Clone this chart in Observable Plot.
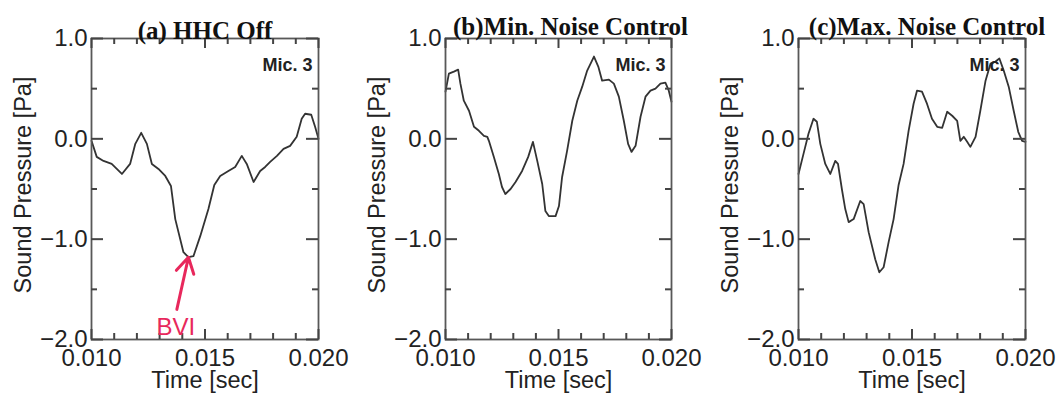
<!DOCTYPE html>
<html><head><meta charset="utf-8">
<script src="https://cdn.jsdelivr.net/npm/d3@7"></script>
<script src="https://cdn.jsdelivr.net/npm/@observablehq/plot@0.6"></script>
<style>
html,body{margin:0;padding:0;background:#fff;}
#wrap{position:relative;width:1063px;height:403px;overflow:hidden;background:#fff;}
#wrap svg{position:absolute;top:0;}
</style></head><body><div id="wrap"></div>
<script>
// ---- data ----
const titles = ["(a) HHC Off", "(b)Min. Noise Control", "(c)Max. Noise Control"];

const timeA = [0.01000,0.01023,0.01053,0.01089,0.01134,0.01170,0.01193,0.01219,0.01244,0.01266,0.01295,0.01325,0.01350,0.01369,0.01405,0.01427,0.01449,0.01479,0.01515,0.01541,0.01567,0.01603,0.01633,0.01662,0.01684,0.01714,0.01743,0.01765,0.01787,0.01817,0.01846,0.01875,0.01904,0.01926,0.01941,0.01968,0.01985,0.02000];
const pressureA = [-0.02,-0.18,-0.22,-0.25,-0.35,-0.25,-0.05,0.06,-0.05,-0.25,-0.30,-0.37,-0.47,-0.80,-1.13,-1.18,-1.17,-0.97,-0.70,-0.46,-0.37,-0.32,-0.28,-0.17,-0.25,-0.43,-0.32,-0.28,-0.23,-0.17,-0.10,-0.07,0.02,0.20,0.25,0.24,0.12,0.00];

const timeB = [0.01000,0.01015,0.01037,0.01056,0.01066,0.01081,0.01104,0.01126,0.01148,0.01170,0.01185,0.01192,0.01214,0.01236,0.01250,0.01265,0.01288,0.01310,0.01339,0.01366,0.01387,0.01406,0.01428,0.01442,0.01457,0.01487,0.01502,0.01516,0.01538,0.01561,0.01583,0.01605,0.01627,0.01657,0.01676,0.01693,0.01723,0.01745,0.01767,0.01789,0.01808,0.01823,0.01841,0.01863,0.01885,0.01907,0.01929,0.01951,0.01973,0.01988,0.02000];
const pressureB = [0.47,0.65,0.67,0.69,0.55,0.38,0.28,0.12,0.08,0.03,0.02,-0.02,-0.18,-0.35,-0.48,-0.55,-0.50,-0.43,-0.32,-0.18,-0.03,-0.22,-0.45,-0.72,-0.77,-0.77,-0.67,-0.38,-0.12,0.18,0.38,0.52,0.68,0.82,0.72,0.58,0.59,0.55,0.42,0.18,-0.05,-0.13,-0.07,0.22,0.42,0.48,0.50,0.55,0.56,0.48,0.37];

const timeC = [0.01000,0.01022,0.01044,0.01066,0.01081,0.01096,0.01118,0.01140,0.01162,0.01174,0.01191,0.01206,0.01221,0.01243,0.01272,0.01287,0.01309,0.01338,0.01356,0.01375,0.01397,0.01419,0.01441,0.01463,0.01485,0.01507,0.01522,0.01544,0.01566,0.01588,0.01611,0.01633,0.01655,0.01677,0.01699,0.01713,0.01728,0.01743,0.01757,0.01780,0.01801,0.01824,0.01846,0.01868,0.01885,0.01904,0.01926,0.01948,0.01968,0.01985,0.02000];
const pressureC = [-0.35,-0.15,0.05,0.20,0.17,-0.05,-0.25,-0.35,-0.22,-0.25,-0.50,-0.70,-0.83,-0.80,-0.62,-0.65,-0.93,-1.20,-1.33,-1.28,-1.03,-0.80,-0.46,-0.25,0.08,0.35,0.48,0.47,0.35,0.20,0.12,0.11,0.27,0.23,0.18,-0.02,0.02,-0.03,-0.08,0.02,0.28,0.58,0.75,0.77,0.80,0.68,0.52,0.28,0.07,-0.02,-0.03];

const xMajorTicks = [0.010, 0.015, 0.020];
const xMinorTicks = [0.011, 0.012, 0.013, 0.014, 0.016, 0.017, 0.018, 0.019];
const yMajorTicks = [-2, -1, 0, 1];
const yMinorTicks = [-1.5, -0.5, 0.5];
const xLabel = "Time [sec]";
const yLabel = "Sound Pressure [Pa]";
const micLabel = "Mic. 3";
const bviLabel = "BVI";
const bviTail = [0.01376, -1.70];
const bviTextPos = [0.01372, -1.88];

// ---- layout ----
const times = [timeA, timeB, timeC];
const pressures = [pressureA, pressureB, pressureC];
const xDomain = [0.010, 0.020], yDomain = [-2, 1];
const H = 403, MT = 38, MB = 64;
const layout = [
  {left: 0,   width: 354, ml: 91, mr: 36, tdx: 0,  tdy: -17},
  {left: 354, width: 354, ml: 91, mr: 37, tdx: 12, tdy: -21},
  {left: 708, width: 355, ml: 90, mr: 38, tdx: 15, tdy: -21}
];
const frameColor = "#585858";
const bviColor = "#e8285c";
const wrap = document.getElementById("wrap");

layout.forEach((L, i) => {
  const data = times[i].map((t, j) => ({t, p: pressures[i][j]}));
  const fh = H - MT - MB, fw = L.width - L.ml - L.mr;
  const tickStyle = {stroke: "#444", strokeWidth: 2};
  // inward ticks on all four sides (length in pixels via insets)
  const xTicks = (vals, len) => [
    Plot.tickX(vals, {x: d => d, insetTop: fh - len, ...tickStyle}),
    Plot.tickX(vals, {x: d => d, insetBottom: fh - len, ...tickStyle})
  ];
  const yTicks = (vals, len) => [
    Plot.tickY(vals, {y: d => d, insetRight: fw - len, ...tickStyle}),
    Plot.tickY(vals, {y: d => d, insetLeft: fw - len, ...tickStyle})
  ];
  const marks = [
    Plot.line(data, {x: "t", y: "p", stroke: "#333", strokeWidth: 1.8}),
    Plot.frame({stroke: frameColor, strokeWidth: 1.8}),
    ...xTicks(xMinorTicks, 6),
    ...xTicks(xMajorTicks, 10),
    ...yTicks(yMinorTicks, 6),
    ...yTicks(yMajorTicks, 12),
    Plot.axisX(xMajorTicks, {anchor: "bottom", tickSize: 0, tickPadding: 9, tickFormat: d3.format(".3f"), fontSize: 24, label: null, fill: "#222"}),
    Plot.axisY(yMajorTicks, {anchor: "left", tickSize: 0, tickPadding: 4, tickFormat: d3.format(".1f"), fontSize: 24, label: null, fill: "#222"}),
    Plot.text([xLabel], {text: d => d, frameAnchor: "bottom", dy: 48, fontSize: 23.5, fill: "#222"}),
    Plot.text([yLabel], {text: d => d, frameAnchor: "left", textAnchor: "middle", dx: -68, dy: -4, rotate: -90, fontSize: 23.5, fill: "#222"}),
    Plot.text([titles[i]], {text: d => d, frameAnchor: "top", dx: L.tdx, dy: L.tdy, fontSize: 25, fontWeight: "bold", fontFamily: "Liberation Serif, Times New Roman, serif", fill: "#111"}),
    Plot.text([micLabel], {text: d => d, frameAnchor: "top-right", dx: -6, dy: 20, textAnchor: "end", fontSize: 18, fontWeight: "bold", fill: "#222"})
  ];
  if (i === 0) {
    const tip = d3.least(data, d => d.p);
    marks.push(
      Plot.arrow([{x1: bviTail[0], y1: bviTail[1], x2: tip.t, y2: tip.p}], {x1: "x1", y1: "y1", x2: "x2", y2: "y2", stroke: bviColor, strokeWidth: 3, headLength: 12, headAngle: 60}),
      Plot.text([bviLabel], {text: d => d, x: () => bviTextPos[0], y: () => bviTextPos[1], fill: bviColor, fontSize: 24})
    );
  }
  const svg = Plot.plot({
    width: L.width, height: H,
    marginLeft: L.ml, marginRight: L.mr, marginTop: MT, marginBottom: MB,
    x: {domain: xDomain},
    y: {domain: yDomain},
    style: {fontFamily: "Liberation Sans, Arial, Helvetica, sans-serif", background: "transparent", overflow: "visible"},
    marks
  });
  svg.style.left = L.left + "px";
  wrap.appendChild(svg);
});
</script></body></html>
